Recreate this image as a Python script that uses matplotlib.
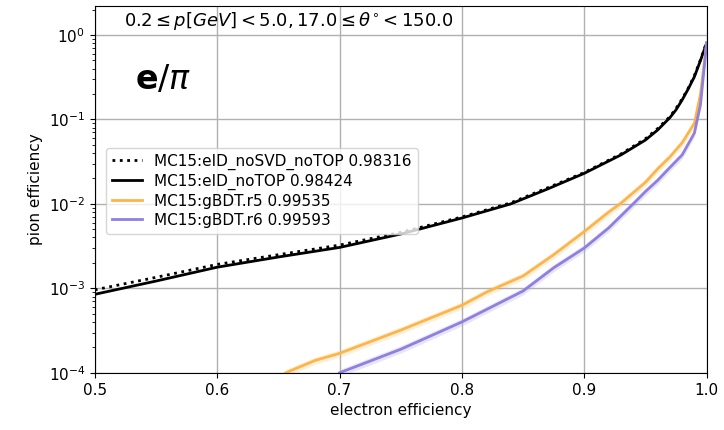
import numpy as np
import matplotlib
matplotlib.use('Agg')
import matplotlib.pyplot as plt

# electron efficiency (x) and pion efficiency (y)
eff_notop = [0.5, 0.55, 0.6, 0.65, 0.7, 0.75, 0.8, 0.84, 0.87, 0.9, 0.93, 0.95, 0.96, 0.97, 0.975, 0.98, 0.985, 0.99, 0.995, 1.0]
pi_notop = [8.5e-4, 1.22e-3, 1.78e-3, 2.35e-3, 3.05e-3, 4.4e-3, 6.8e-3, 1.0e-2, 1.5e-2, 2.3e-2, 3.8e-2, 5.7e-2, 7.5e-2, 0.105, 0.13, 0.17, 0.23, 0.32, 0.5, 0.8]

eff_nosvd = [0.5, 0.55, 0.6, 0.65, 0.7, 0.75, 0.8, 0.84, 0.87, 0.9, 0.93, 0.95, 0.96, 0.97, 0.975, 0.98, 0.985, 0.99, 0.995, 1.0]
pi_nosvd = [9.6e-4, 1.35e-3, 1.92e-3, 2.5e-3, 3.25e-3, 4.6e-3, 7.0e-3, 1.03e-2, 1.55e-2, 2.35e-2, 3.9e-2, 5.9e-2, 7.8e-2, 0.108, 0.135, 0.175, 0.235, 0.33, 0.51, 0.82]

eff_r5 = [0.656, 0.68, 0.7, 0.75, 0.8, 0.82, 0.85, 0.875, 0.9, 0.92, 0.93, 0.95, 0.96, 0.97, 0.98, 0.99, 0.995, 1.0]
pi_r5 = [1.0e-4, 1.4e-4, 1.7e-4, 3.2e-4, 6.3e-4, 9e-4, 1.4e-3, 2.5e-3, 4.7e-3, 8.0e-3, 1.02e-2, 1.8e-2, 2.6e-2, 3.6e-2, 5.3e-2, 9.0e-2, 0.2, 0.8]

eff_r6 = [0.7, 0.75, 0.8, 0.85, 0.875, 0.9, 0.92, 0.94, 0.95, 0.96, 0.97, 0.98, 0.99, 0.995, 1.0]
pi_r6 = [1.0e-4, 1.9e-4, 4.0e-4, 9.3e-4, 1.75e-3, 3.0e-3, 5.2e-3, 1.0e-2, 1.4e-2, 1.9e-2, 2.7e-2, 3.8e-2, 6.9e-2, 0.15, 0.8]

fig = plt.figure(figsize=(7.24, 4.30), dpi=100)
ax = fig.add_axes([0.131, 0.133, 0.845, 0.853])

ax.plot(eff_nosvd, pi_nosvd, color='black', ls=':', lw=2, label='MC15:eID_noSVD_noTOP 0.98316')
ax.plot(eff_notop, pi_notop, color='black', lw=2, label='MC15:eID_noTOP 0.98424')
ax.fill_between(eff_r5, np.array(pi_r5) * 0.9, np.array(pi_r5) * 1.1, color='#fdb54a', alpha=0.2, lw=0)
ax.plot(eff_r5, pi_r5, color='#fdb54a', lw=2, label='MC15:gBDT.r5 0.99535')
ax.fill_between(eff_r6, np.array(pi_r6) * 0.9, np.array(pi_r6) * 1.1, color='#8f80e0', alpha=0.2, lw=0)
ax.plot(eff_r6, pi_r6, color='#8f80e0', lw=2, label='MC15:gBDT.r6 0.99593')

ax.set_yscale('log')
ax.set_xlim(0.5, 1.0)
ax.set_ylim(1e-4, 2.2)
ax.grid(True, which='major', color='#b0b0b0', lw=1)
ax.tick_params(labelsize=11)
ax.set_xlabel('electron efficiency', fontsize=11)
ax.set_ylabel('pion efficiency', fontsize=11)

ax.text(0.047, 0.958, r'$0.2 \leq p[GeV] < 5.0, 17.0 \leq \theta^{\circ} < 150.0$',
        transform=ax.transAxes, fontsize=13, va='center', ha='left')
ax.text(0.065, 0.80, r'$\mathbf{e}/\pi$', transform=ax.transAxes, fontsize=24, va='center', ha='left')

ax.legend(loc='upper left', bbox_to_anchor=(0.005, 0.635), fontsize=11, labelspacing=0.25)

fig.savefig('out.png', dpi=100)
